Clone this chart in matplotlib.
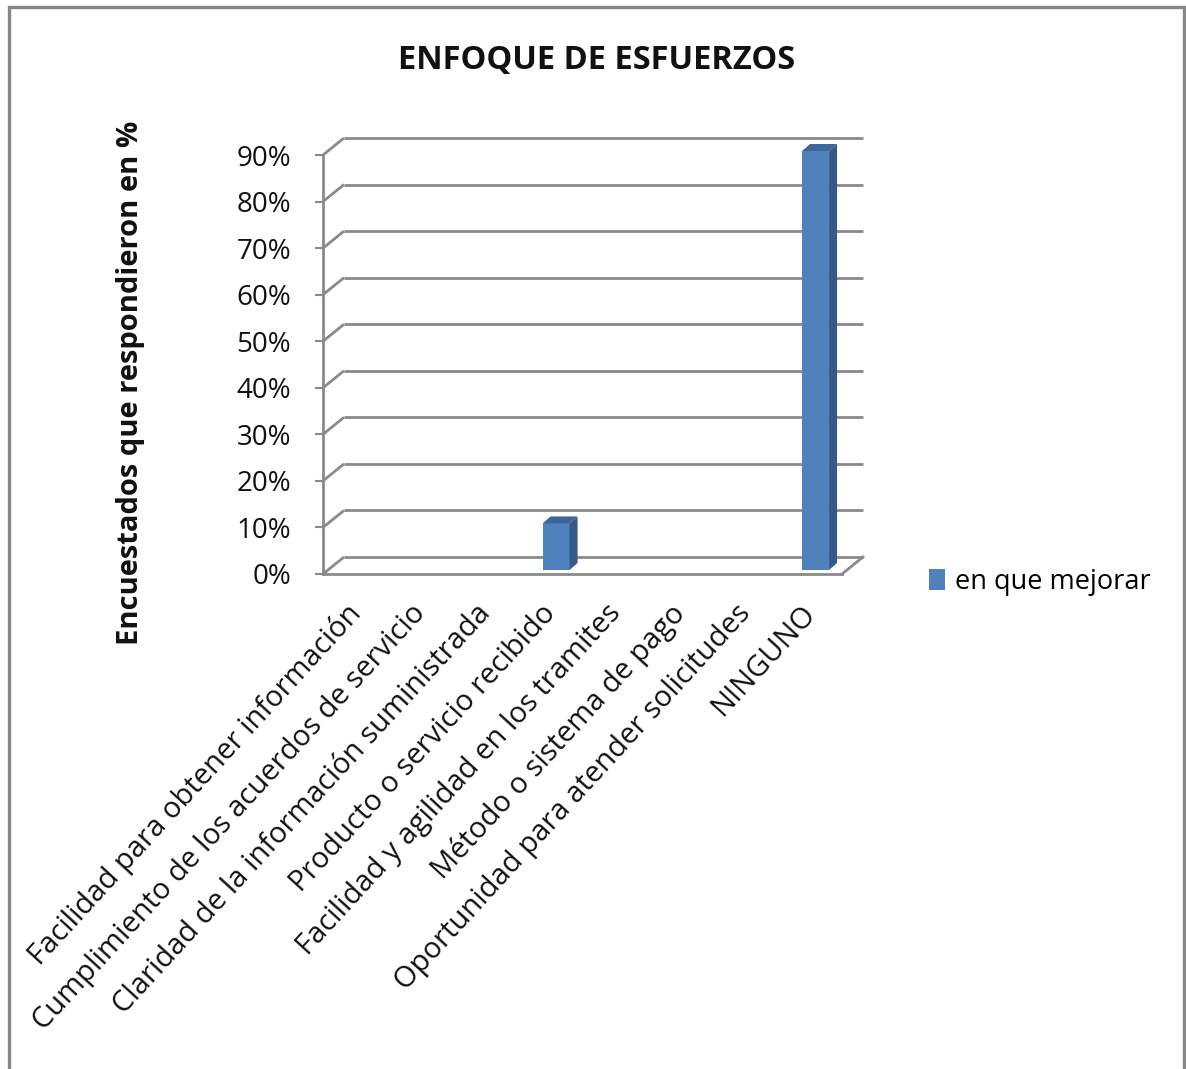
import matplotlib
matplotlib.use("Agg")
import matplotlib.pyplot as plt
from matplotlib.patches import Polygon, Rectangle
from matplotlib.transforms import blended_transform_factory, ScaledTranslation

# ---- data ----
categories = [
    "Facilidad para obtener información",
    "Cumplimiento de los acuerdos de servicio",
    "Claridad de la información suministrada",
    "Producto o servicio recibido",
    "Facilidad y agilidad en los tramites",
    "Método o sistema de pago",
    "Oportunidad para atender solicitudes",
    "NINGUNO",
]
values = [0, 0, 0, 10, 0, 0, 0, 90]
yticks = [0, 10, 20, 30, 40, 50, 60, 70, 80, 90]
ytick_labels = ["0%", "10%", "20%", "30%", "40%", "50%", "60%", "70%", "80%", "90%"]
series_name = "en que mejorar"
title = "ENFOQUE DE ESFUERZOS"
ylabel = "Encuestados que respondieron en %"

FONT = ["Open Sans", "DejaVu Sans"]
plt.rcParams["font.family"] = FONT
TXT = "#111111"

W, H = 1186, 1069
fig = plt.figure(figsize=(W / 100, H / 100), dpi=100)
fig.patch.set_facecolor("white")

# outer chart border
fig.add_artist(Rectangle((9 / W, -0.01), (1184 - 9) / W, (H - 7) / H + 0.01,
                         transform=fig.transFigure, fill=False,
                         edgecolor="#878787", linewidth=2.4))

# plot area geometry (pixels)
x_front_left, x_front_right = 323, 842
y_zero, y_top_front = 574, 155
DXP, DYP = 21, 17
ncat = len(categories)
px_x = ncat / (x_front_right - x_front_left)
px_y = 90 / (y_zero - y_top_front)
right_px = x_front_right + DXP + 1
top_px = y_top_front - DYP

ax = fig.add_axes([x_front_left / W, (H - y_zero) / H,
                   (right_px - x_front_left) / W, (y_zero - top_px) / H])
ax.set_xlim(0, (right_px - x_front_left) * px_x)
ax.set_ylim(0, (y_zero - top_px) * px_y)
ax.set_facecolor("none")
for s in ["top", "right", "bottom"]:
    ax.spines[s].set_visible(False)

grid_c = "#8a8a8a"
lw = 2.0
DX, DY = DXP * px_x, DYP * px_y

# left spine & ticks
ax.spines["left"].set_bounds(0, 90)
ax.spines["left"].set_color(grid_c)
ax.spines["left"].set_linewidth(lw)
ax.set_yticks(yticks)
ax.set_yticklabels(ytick_labels)
ax.tick_params(axis="y", length=6, width=1.5, color=grid_c, pad=17,
               labelsize=20, labelcolor=TXT)
ax.set_xticks([])

# gridlines: back wall lines + diagonals
for t in yticks:
    ax.plot([0, DX], [t, t + DY], color=grid_c, lw=lw, clip_on=False,
            solid_capstyle="butt")
    ax.plot([DX, ncat + DX], [t + DY, t + DY], color=grid_c, lw=lw,
            clip_on=False, solid_capstyle="butt")
# floor front edge and right edge
ax.plot([0, ncat], [0, 0], color=grid_c, lw=lw, clip_on=False)
ax.plot([ncat, ncat + DX], [0, DY], color=grid_c, lw=lw, clip_on=False)

# bars (front face) with 3D side/top
bw = 27 * px_x
shift = 6 * px_x
base = 4 * px_y
ddx, ddy = 8 * px_x, 7 * px_y
xs = [i + 0.5 + shift for i in range(ncat)]
front_c, side_c, top_c = "#4F81BD", "#36598A", "#3E6799"
bars = ax.bar(xs, values, width=bw, bottom=base, color=front_c,
              edgecolor="none", zorder=3, label=series_name)
for x, v in zip(xs, values):
    if v <= 0:
        continue
    l, r = x - bw / 2, x + bw / 2
    b, t = base, base + v
    ax.add_patch(Polygon([(r, b), (r + ddx, b + ddy), (r + ddx, t + ddy), (r, t)],
                         closed=True, facecolor=side_c, edgecolor="none", zorder=3))
    ax.add_patch(Polygon([(l, t), (l + ddx, t + ddy), (r + ddx, t + ddy), (r, t)],
                         closed=True, facecolor=top_c, edgecolor="none", zorder=3))

# category labels rotated
trans = blended_transform_factory(ax.transData, ax.transAxes) + \
    ScaledTranslation(1 / 100, -35 / 100, fig.dpi_scale_trans)
for i, c in enumerate(categories):
    ax.text(i + 0.5, 0, c, transform=trans, rotation=47.5, rotation_mode="anchor",
            ha="right", va="center", fontsize=21, color=TXT)

# title and y label
fig.text(597 / W, 1 - 60 / H, title, ha="center", va="center",
         fontsize=23.5, fontweight="bold", color=TXT)
fig.text(131 / W, 1 - 383 / H, ylabel, ha="center", va="center", rotation=90,
         fontsize=21, fontweight="bold", color=TXT)

# legend
fig.legend(handles=[bars], labels=[series_name], loc="center left",
           bbox_to_anchor=(929 / W, 1 - 582 / H), frameon=False,
           fontsize=19.5, handlelength=0.6, handleheight=0.85,
           handletextpad=0.35, borderpad=0, borderaxespad=0)

fig.savefig("out.png", dpi=100, facecolor="white")
